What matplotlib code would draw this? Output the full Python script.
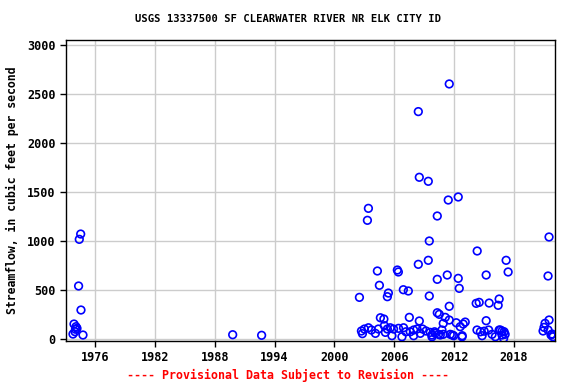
import matplotlib
matplotlib.use('Agg')
import matplotlib.pyplot as plt
import numpy as np

# decimal year, streamflow (cfs)
years = [1973.8, 1973.9, 1974.0, 1974.05, 1974.1, 1974.2, 1974.36, 1974.43, 1974.57, 1974.6, 1974.8,
         1989.8, 1992.7,
         2002.5, 2002.7, 2002.8, 2003.0, 2003.3, 2003.4, 2003.4, 2003.7, 2004.1, 2004.3, 2004.4,
         2004.5, 2004.6, 2004.95, 2005.0, 2005.1, 2005.3, 2005.3, 2005.4,
         2005.59, 2005.92, 2006.42, 2006.92, 2007.16, 2007.59, 2007.93, 2008.27, 2008.6, 2008.83,
         2009.17, 2009.6, 2010.03, 2010.43, 2010.77, 2005.76, 2006.76, 2007.93, 2009.77, 2010.6,
         2006.3, 2006.4, 2006.9, 2007.4, 2007.5, 2008.4, 2008.4, 2008.5, 2008.5, 2009.4, 2009.4,
         2009.5, 2009.5, 2010.3, 2010.3, 2010.3, 2010.5, 2010.9, 2011.1, 2011.3, 2011.4, 2011.5,
         2011.5, 2011.5, 2012.2, 2012.4, 2012.4, 2012.5, 2012.6, 2012.9, 2013.1,
         2011.6, 2011.94, 2012.78, 2014.28, 2014.62, 2014.79, 2015.45, 2015.79, 2016.12, 2016.62,
         2016.79, 2016.95, 2009.77, 2010.1, 2010.9, 2011.8, 2012.8, 2015.0, 2016.5,
         2014.2, 2014.3, 2014.5, 2015.2, 2015.2, 2015.5, 2016.4, 2016.5, 2017.2, 2017.4,
         2016.8, 2017.1, 2017.0,
         2020.9, 2021.0, 2021.1, 2021.4, 2021.4, 2021.5, 2021.5, 2021.7, 2021.8, 2021.9]
flow = [51, 153, 75, 100, 126, 109, 541, 1017, 1071, 296, 41,
        44, 38,
        425, 82, 55, 102, 1211, 1333, 115, 92, 58, 694, 102,
        548, 217, 204, 136, 68, 102, 432, 469,
        115, 102, 109, 115, 74, 74, 92, 102, 58, 102,
        82, 68, 74, 48, 92, 34, 23, 34, 23, 41,
        704, 684, 503, 490, 221, 762, 2320, 1650, 184, 1609, 803,
        1000, 439, 1255, 609, 268, 252, 160, 221, 653, 1418, 2602,
        334, 194, 166, 1449, 619, 517, 126, 153, 173,
        48, 34, 23, 92, 74, 34, 92, 48, 23, 92,
        41, 7, 41, 58, 48, 41, 34, 80, 92,
        364, 898, 374, 653, 187, 367, 344, 408, 803, 684,
        82, 48, 74,
        82, 119, 160, 92, 643, 1041, 194, 41, 51, 23]

xticks = [1976, 1982, 1988, 1994, 2000, 2006, 2012, 2018]
yticks = [0, 500, 1000, 1500, 2000, 2500, 3000]

mono = 'DejaVu Sans Mono'
fig = plt.figure(figsize=(5.76, 3.84), dpi=100)
ax = fig.add_axes([0.1146, 0.112, 0.849, 0.784])

ax.scatter(years, flow, marker='o', s=30, facecolors='none', edgecolors='#0000ff', linewidths=1.2, zorder=3)

ax.set_xlim(1973.1, 2022.1)
ax.set_ylim(-20, 3051)
ax.set_xticks(xticks)
ax.set_yticks(yticks)
ax.grid(True, color='#cccccc', linewidth=1)
ax.set_axisbelow(True)
for s in ax.spines.values():
    s.set_linewidth(1)
ax.tick_params(direction='out', length=4, width=1, labelsize=8.5)
for lab in ax.get_xticklabels() + ax.get_yticklabels():
    lab.set_fontfamily(mono)
    lab.set_fontweight('bold')

ax.set_ylabel('Streamflow, in cubic feet per second', fontsize=8.3, fontfamily=mono, fontweight='bold', labelpad=6)
fig.text(0.5, 0.95, 'USGS 13337500 SF CLEARWATER RIVER NR ELK CITY ID', ha='center', va='center',
         fontsize=7.6, fontfamily=mono, fontweight='bold')
fig.text(0.5, 0.023, '---- Provisional Data Subject to Revision ----', ha='center', va='center',
         fontsize=8.4, fontfamily=mono, fontweight='bold', color='red')

fig.savefig('out.png', dpi=100)
